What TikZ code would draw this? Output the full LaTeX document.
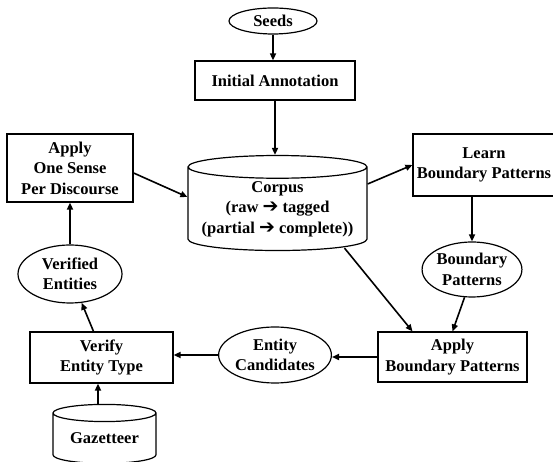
\documentclass[tikz,border=0pt]{standalone}
\usepackage{fontspec}
\setmainfont{Liberation Serif}
\newfontfamily\arrowfont{DejaVu Sans}
\usetikzlibrary{shapes.geometric,arrows.meta}

\newcommand{\rto}{{\arrowfont\bfseries\fontsize{19}{19}\selectfont ➔}}

\tikzset{
  every node/.style={font=\bfseries\fontsize{16.5}{20.5}\selectfont, align=center, inner sep=0pt},
  stepbox/.style={draw, line width=1.2pt, rectangle},
  dataoval/.style={draw, line width=1.2pt, ellipse},
  store/.style={draw, line width=1.2pt, cylinder, shape border rotate=90},
  flow/.style={line width=1.6pt, -{Triangle[length=7pt,width=6pt]}},
}

\begin{document}
\begin{tikzpicture}[scale=1.000000,x=1pt,y=1pt]
\useasboundingbox[fill=white] (0.000000, 0.000000) rectangle (553.000000, 462.000000);
% Drawing the main loop
\node[dataoval, minimum width=88pt, minimum height=26pt] (seeds) at (273.000000, 441.000000) {Seeds};
\node[stepbox, minimum width=160pt, minimum height=39pt] (init) at (275.000000, 381.500000) {Initial Annotation};
\node[store, minimum width=179pt, minimum height=95pt, aspect=0.15] (corpus) at (277.500000, 253.000000) {Corpus\\(raw \rto{} tagged\\(partial \rto{} complete))};
\node[stepbox, minimum width=142pt, minimum height=62pt] (learn) at (484.000000, 297.000000) {Learn\\Boundary Patterns};
\node[dataoval, minimum width=99pt, minimum height=55pt] (bpat) at (472.000000, 192.500000) {Boundary\\Patterns};
\node[stepbox, minimum width=149pt, minimum height=50pt] (applyb) at (452.500000, 105.000000) {Apply\\Boundary Patterns};
\node[dataoval, minimum width=104pt, minimum height=56pt] (cand) at (275.000000, 107.000000) {Entity\\Candidates};
\node[stepbox, minimum width=143pt, minimum height=51pt] (verify) at (101.500000, 104.500000) {Verify\\Entity Type};
\node[store, minimum width=103pt, minimum height=59pt, aspect=0.25] (gaz) at (104.500000, 23.500000) {Gazetteer};
\node[dataoval, minimum width=104pt, minimum height=58pt] (verified) at (70.000000, 188.000000) {Verified\\Entities};
\node[stepbox, minimum width=126pt, minimum height=68pt] (sense) at (70.000000, 294.000000) {Apply\\One Sense\\Per Discourse};
% Done with nodes; drawing arrows
\draw[flow] (seeds.south) -- (seeds.south |- init.north);
\draw[flow] (init.south) -- (init.south |- corpus.north);
\draw[flow] ([yshift=25pt]corpus.east) -- (learn.west);
\draw[flow] (bpat.north |- learn.south) -- (bpat.north);
\draw[flow] (bpat.255) -- (applyb.north);
\draw[flow] ([xshift=67pt,yshift=3pt]corpus.south) -- ([xshift=-40pt]applyb.north);
\draw[flow] (applyb.west) -- (applyb.west -| cand.east);
\draw[flow] (cand.west) -- (cand.west -| verify.east);
\draw[flow] ([xshift=-6.5pt]gaz.north) -- ([xshift=-6.5pt]gaz.north |- verify.south);
\draw[flow] ([xshift=-8pt]verify.north) -- (verified.-68);
\draw[flow] (verified.north) -- (sense.south);
\draw[flow] ([yshift=-5pt]sense.east) -- ([yshift=12pt]corpus.west);
% Done with arrows
\end{tikzpicture}
\end{document}
